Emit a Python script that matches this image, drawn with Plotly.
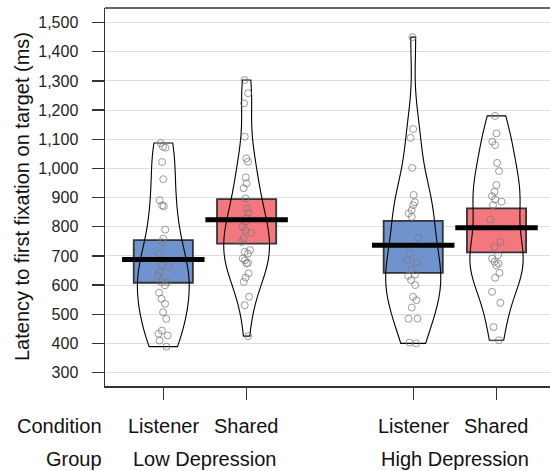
import numpy as np
import plotly.graph_objects as go

# ---- data ----
positions = [1, 2, 4, 5]
conditions = ["Listener", "Shared", "Listener", "Shared"]
groups = ["Low Depression", "High Depression"]
group_centers = [1.5, 4.5]

low_listener = [1087, 1074, 1071, 1022, 963, 891, 873, 870, 790, 759, 747, 707, 667, 662,
                644, 633, 610, 610, 599, 574, 553, 536, 507, 484, 444, 433, 427, 410, 389]
low_shared = [1303, 1258, 1223, 1109, 1034, 1023, 969, 949, 932, 897, 863, 848, 829, 817,
              800, 788, 779, 760, 748, 720, 714, 708, 691, 685, 676, 674, 640, 626, 611,
              560, 531, 425]
high_listener = [1450, 1135, 1105, 1002, 909, 884, 874, 857, 846, 834, 762, 708, 685, 678,
                 652, 636, 632, 617, 600, 560, 548, 523, 485, 485, 403, 400]
high_shared = [1180, 1120, 1092, 1080, 1019, 991, 943, 920, 905, 894, 886, 874, 825, 748,
               731, 703, 691, 680, 674, 668, 642, 625, 577, 539, 456, 411]
series = [low_listener, low_shared, high_listener, high_shared]

means = [688, 824, 737, 797]
ci_low = [608, 742, 642, 712]
ci_high = [754, 895, 820, 863]

y_ticks = list(range(300, 1501, 100))

# ---- styles ----
box_colors = ["#7093CD", "#F3787E", "#7093CD", "#F3787E"]
violin_widths = [0.62, 0.55, 0.66, 0.64]
FONT = "Liberation Sans, Arial, Helvetica, sans-serif"
AX = "#333333"


def nrd0(v):
    v = np.asarray(v, dtype=float)
    sd = v.std(ddof=1)
    iqr = np.subtract(*np.percentile(v, [75, 25]))
    lo = min(sd, iqr / 1.34)
    return 0.9 * lo * len(v) ** (-0.2)


fig = go.Figure()

# inference bands (boxes)
fig.add_trace(go.Bar(
    x=positions,
    y=[h - l for h, l in zip(ci_high, ci_low)],
    base=ci_low,
    width=0.71,
    marker=dict(color=box_colors, line=dict(color=AX, width=1.8)),
    hoverinfo="skip",
    showlegend=False,
))

# beans + points
for pos, vals, w in zip(positions, series, violin_widths):
    fig.add_trace(go.Violin(
        x=[pos] * len(vals),
        y=vals,
        width=w,
        bandwidth=nrd0(vals),
        spanmode="hard",
        fillcolor="rgba(0,0,0,0)",
        line=dict(color="black", width=1.1),
        points="all",
        pointpos=0,
        jitter=0.25,
        marker=dict(symbol="circle-open", size=7, color="rgba(120,120,120,0.75)",
                    line=dict(width=1)),
        box_visible=False,
        meanline_visible=False,
        hoverinfo="skip",
        showlegend=False,
    ))

# mean lines
mx, my = [], []
for pos, m in zip(positions, means):
    mx += [pos - 0.495, pos + 0.495, None]
    my += [m, m, None]
fig.add_trace(go.Scatter(x=mx, y=my, mode="lines",
                         line=dict(color="black", width=5),
                         hoverinfo="skip", showlegend=False))

annotations = []
for pos, c in zip(positions, conditions):
    annotations.append(dict(x=pos, xref="x", y=0, yref="paper", text=c, showarrow=False,
                            xanchor="center", yanchor="middle", yshift=-40,
                            font=dict(size=20, color="#111", family=FONT)))
for gc, g in zip(group_centers, groups):
    annotations.append(dict(x=gc, xref="x", y=0, yref="paper", text=g, showarrow=False,
                            xanchor="center", yanchor="middle", yshift=-73,
                            font=dict(size=20, color="#111", family=FONT)))
annotations.append(dict(x=0, xref="paper", y=0, yref="paper", text="Condition", showarrow=False,
                        xanchor="right", yanchor="middle", xshift=-1, yshift=-40,
                        font=dict(size=20, color="#111", family=FONT)))
annotations.append(dict(x=0, xref="paper", y=0, yref="paper", text="Group", showarrow=False,
                        xanchor="right", yanchor="middle", xshift=-1, yshift=-73,
                        font=dict(size=20, color="#111", family=FONT)))
annotations.append(dict(x=0, xref="paper", y=0.5, yref="paper",
                        text="Latency to first fixation on target (ms)", showarrow=False,
                        textangle=-90, xanchor="center", yanchor="middle", xshift=-83,
                        font=dict(size=20, color="#111", family=FONT)))

fig.update_layout(
    width=550, height=471,
    margin=dict(l=105, r=0, t=8, b=85),
    paper_bgcolor="white", plot_bgcolor="white",
    font=dict(family=FONT, color="#111"),
    annotations=annotations,
    shapes=[dict(type="line", xref="paper", yref="paper", x0=0, x1=1, y0=1, y1=1,
                 line=dict(color=AX, width=1.5))],
    xaxis=dict(range=[0.30, 5.642], tickvals=positions, showticklabels=False,
               ticks="outside", ticklen=12, tickwidth=1.3, tickcolor=AX,
               showline=True, linecolor=AX, linewidth=1.5, showgrid=False, zeroline=False),
    yaxis=dict(range=[254, 1550], tickvals=y_ticks, tickformat=",",
               ticks="outside", ticklen=12, tickwidth=1.3, tickcolor=AX,
               ticklabelstandoff=10,
               tickfont=dict(size=16, color="#222", family=FONT),
               showline=True, linecolor=AX, linewidth=1.5,
               showgrid=True, gridcolor="#dedede", gridwidth=1, zeroline=False),
)

fig.write_html("out.html",
               config={"displayModeBar": False, "staticPlot": True},
               post_script="document.body.style.margin='0';document.body.style.overflow='hidden';")
